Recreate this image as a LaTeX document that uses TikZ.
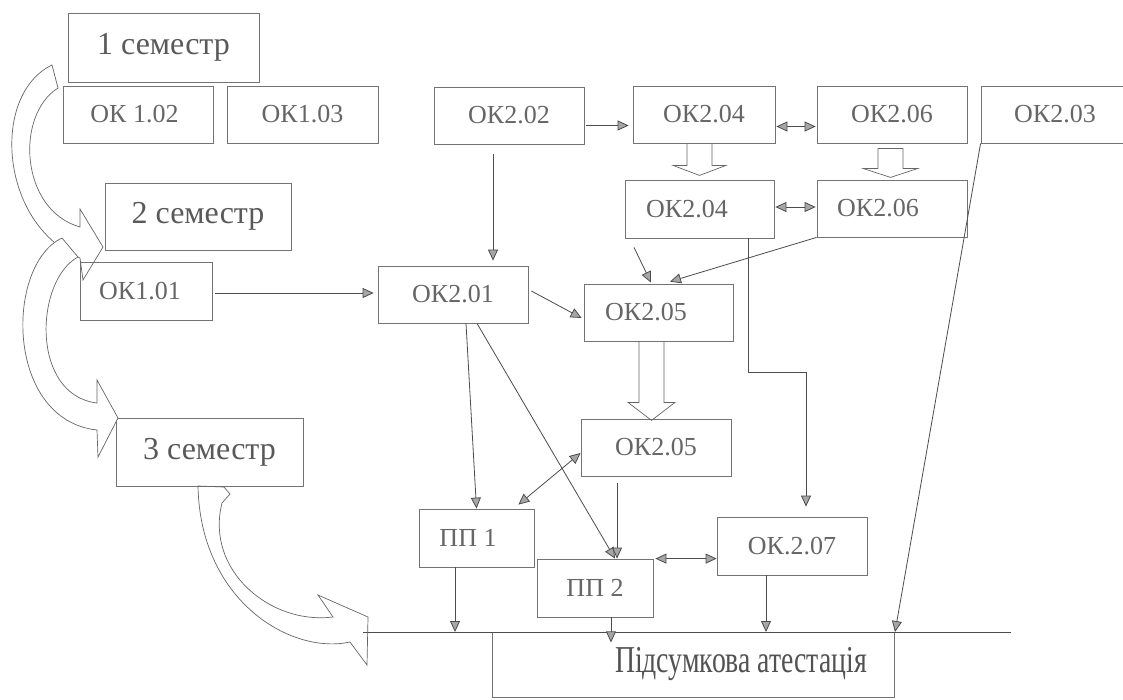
\documentclass[tikz,border=0pt]{standalone}
\usepackage{graphicx}
\usepackage{fontspec}
\setmainfont{Liberation Serif}
\usetikzlibrary{arrows.meta}
\begin{document}
\begin{tikzpicture}[x=1pt,y=-1pt,
  box/.style={draw=black!55, line width=0.8pt, inner sep=0pt, text=black!60,
    font=\fontsize{26}{30}\selectfont, minimum width=150pt, minimum height=57pt},
  sem/.style={box, font=\fontsize{32}{36}\selectfont, text=black!65},
  tipg/.tip={Triangle[length=11pt,width=10pt,fill=black!35]},
  conn/.style={draw=black!70, line width=0.8pt, -tipg},
  dconn/.style={draw=black!70, line width=0.8pt, tipg-tipg},
  plain/.style={draw=black!70, line width=0.8pt},
  hollow/.style={draw=black!60, line width=0.7pt, line join=miter},
]
\useasboundingbox (0,0) rectangle (1123,699);
\fill[white] (0,0) rectangle (1123,699);

% semester boxes
\node[sem, minimum width=191pt, minimum height=69pt] (s1) at (163.5,47.5) {1 семестр};
\node[sem, minimum width=186pt, minimum height=67pt] (s2) at (198,216.5) {2 семестр};
\node[sem, minimum width=187pt, minimum height=68pt] (s3) at (209.5,452) {3 семестр};

% course boxes
\node[box] (ok102) at (138,114.5) {ОК 1.02\hspace*{7pt}};
\node[box, minimum width=151pt] (ok103) at (302.5,114.5) {ОК1.03};
\node[box, minimum width=132pt, minimum height=58pt] (ok101) at (146,291) {ОК1.01\hspace*{12pt}};
\node[box] (ok202) at (509,115.5) {ОК2.02};
\node[box, minimum width=142pt] (ok204a) at (704,114.5) {ОК2.04};
\node[box] (ok206a) at (892,114.5) {ОК2.06};
\node[box, minimum width=148pt] (ok203) at (1055,114.5) {ОК2.03};
\node[box, minimum width=149pt, minimum height=58pt] (ok204b) at (699.5,209) {ОК2.04\hspace*{25pt}};
\node[box] (ok206b) at (892,208.5) {ОК2.06\hspace*{28pt}};
\node[box] (ok201) at (453,294.5) {ОК2.01};
\node[box, minimum width=149pt] (ok205a) at (658.5,312.5) {ОК2.05\hspace*{25pt}};
\node[box] (ok205b) at (656,447.5) {ОК2.05};
\node[box, minimum width=115pt, minimum height=58pt] (pp1) at (476.5,538) {ПП 1\hspace*{17pt}};
\node[box, minimum width=116pt, minimum height=58pt] (pp2) at (595,588) {ПП 2};
\node[box, minimum height=58pt] (ok207) at (792,546) {ОК.2.07};
\node[box, minimum width=402pt, minimum height=65pt, text=black!68] (final) at (693,664.5)
  {\hspace*{96pt}\scalebox{0.73}[1]{\fontsize{38}{40}\selectfont Підсумкова атестація}};

% horizontal collector line
\coordinate (hlA) at (363,632);
\coordinate (hlB) at (1011,632);
\coordinate (hx) at (895,632);
\draw[plain] (hlA) -- (hlB);

% big hollow arrows between stacked boxes
\draw[hollow] ([xshift=-17pt]ok204a.south) -- ++(0,22) -- ++(-14,0) -- ++(26.5,10) -- ++(26.5,-10) -- ++(-14,0) -- ++(0,-22);
\draw[hollow] ([xshift=-14pt,yshift=-5pt]ok206a.south) -- ++(0,20) -- ++(-15,0) -- ++(27.5,9) -- ++(27.5,-9) -- ++(-15,0) -- ++(0,-20) -- cycle;
\draw[hollow] ([xshift=-19.5pt]ok205a.south) -- ++(0,61) -- ++(-11,0) -- ++(23.5,18) -- ++(23.5,-18) -- ++(-11,0) -- ++(0,-61);

% curved semester arrows
\draw[hollow] (52,65) .. controls (-10,95) and (0,225) .. (80,258) -- (83,280) -- (103,247) -- (80,209) -- (80,227) .. controls (20,210) and (15,115) .. (58,88) -- cycle;
\draw[hollow, fill=white] (62,238) .. controls (5,265) and (5,420) .. (97,430) -- (98,457) -- (118,418) -- (97,380) -- (97,403) .. controls (30,395) and (35,280) .. (78,257) -- cycle;
\draw[hollow] (198,486) .. controls (200,600) and (290,655) .. (350,642) -- (367,665) -- (368,617) -- (318,595) -- (333,617) .. controls (270,625) and (205,570) .. (222,503) -- (230,494) -- (224,487) -- cycle;

% connectors
\draw[conn, shorten <=3pt, shorten >=4pt] ([yshift=-2pt]ok101.east) -- ([yshift=-2pt]ok101.east -| ok201.west);
\draw[conn, shorten <=2pt, shorten >=4pt] ([yshift=-10pt]ok202.east) -- ([yshift=-10pt]ok202.east -| ok204a.west);
\draw[dconn, shorten <=1pt, shorten >=1pt] ([yshift=-12pt]ok204a.east) -- ([yshift=-12pt]ok204a.east -| ok206a.west);
\draw[dconn, shorten <=1pt, shorten >=1pt] ([yshift=2pt]ok204b.east) -- ([yshift=2pt]ok204b.east -| ok206b.west);
\draw[conn, shorten >=5pt] ([xshift=-16pt,yshift=-10pt]ok202.south) -- ([xshift=-16pt]ok202.south |- ok201.north);
\draw[conn] ([xshift=-65.5pt,yshift=-9pt]ok204b.south) -- ([xshift=-7.5pt,yshift=1pt]ok205a.north);
\draw[conn] (ok206b.south west) -- ([xshift=11.5pt,yshift=2pt]ok205a.north);
\draw[conn] ([xshift=3pt,yshift=3.5pt]ok201.east) -- ([xshift=-2pt,yshift=-5.5pt]ok205a.west);
\draw[conn] ([xshift=48.5pt]ok204b.south) -- ++(0,134) -| ([xshift=14pt,yshift=10pt]ok207.north);
\draw[conn] (ok203.south west) -- (hx);
\draw[conn] ([xshift=13pt]ok201.south) -- (pp1.north);
\draw[conn] ([xshift=24pt]ok201.south) -- ([xshift=20pt]pp2.north);
\draw[dconn] ([yshift=-5.5pt]ok205b.west) -- ([xshift=-16pt,yshift=4pt]pp1.north east);
\draw[conn] ([xshift=-39pt,yshift=-7pt]ok205b.south) -- ([xshift=22pt]pp2.north);
\draw[dconn, shorten <=2pt] (pp2.north east) -- (pp2.north east -| ok207.west);
\draw[conn] ([xshift=-21.5pt]pp1.south) -- ([xshift=-21.5pt]pp1.south |- hlA);
\draw[conn] ([xshift=16pt]pp2.south) -- ([xshift=16pt,yshift=-25pt]pp2.south);
\draw[conn] ([xshift=-26pt]ok207.south) -- ([xshift=-26pt]ok207.south |- hlA);
\end{tikzpicture}
\end{document}
